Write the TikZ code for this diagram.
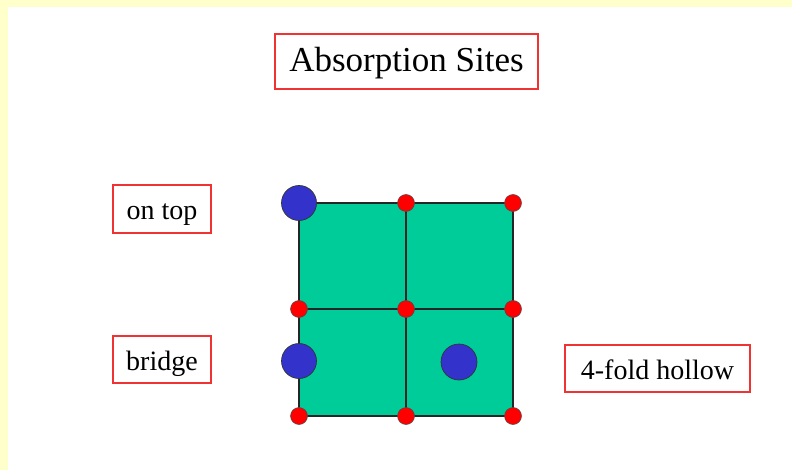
\documentclass[tikz,border=0pt]{standalone}
\usepackage{fontspec}
\setmainfont{Liberation Serif}
\definecolor{pagebg}{RGB}{255,255,204}
\definecolor{surface}{RGB}{0,204,153}
\definecolor{adatom}{RGB}{51,51,204}
\definecolor{latom}{RGB}{255,0,0}
\definecolor{boxline}{RGB}{240,50,50}
\tikzset{
  labelbox/.style={draw=boxline, line width=1.4pt, fill=white, inner sep=0pt,
    font=\fontsize{28}{32}\selectfont, text=black,
    text height=25pt, text depth=4pt},
  titlebox/.style={labelbox, font=\fontsize{35}{40}\selectfont,
    text height=27pt, text depth=6pt},
  lattice/.style={circle, fill=latom, draw=black!70, line width=0.5pt,
    minimum size=17pt, inner sep=0pt},
  adsorbate/.style={circle, fill=adatom, draw=black!80, line width=0.7pt,
    minimum size=35pt, inner sep=0pt},
  gridline/.style={draw=black!85, line width=1.3pt}
}
\begin{document}
\begin{tikzpicture}[x=1pt, y=-1pt]
  % page: pale yellow frame with white slide area
  \fill[pagebg] (0,0) rectangle (792,470);
  \fill[white] (8,7) rectangle (792,470);
  \useasboundingbox (0,0) rectangle (792,470);

  % surface lattice corners
  \coordinate (c00) at (299,203);
  \coordinate (c10) at (406,203);
  \coordinate (c20) at (513,203);
  \coordinate (c01) at (299,309);
  \coordinate (c11) at (406,309);
  \coordinate (c21) at (513,309);
  \coordinate (c02) at (299,416);
  \coordinate (c12) at (406,416);
  \coordinate (c22) at (513,416);

  % substrate surface
  \fill[surface] (c00) rectangle (c22);
  \draw[gridline] (c00) rectangle (c22);
  \draw[gridline] (c10) -- (c12);
  \draw[gridline] (c01) -- (c21);

  % substrate atoms
  \node[lattice] (a10) at (c10) {};
  \node[lattice] (a20) at (c20) {};
  \node[lattice] (a01) at (c01) {};
  \node[lattice] (a11) at (c11) {};
  \node[lattice] (a21) at (c21) {};
  \node[lattice] (a02) at (c02) {};
  \node[lattice] (a12) at (c12) {};
  \node[lattice] (a22) at (c22) {};

  % adsorbed atoms
  \node[adsorbate] (ontop) at (c00) {};
  \node[adsorbate] (bridgesite) at (299,361) {};
  \node[adsorbate, minimum size=36pt] (hollow) at (459,362) {};

  % labels
  \node[titlebox, minimum width=263pt, minimum height=55pt] (title) at (406.5,61.5) {Absorption Sites};
  \node[labelbox, minimum width=98pt, minimum height=48pt] (lontop) at (162,209) {on top};
  \node[labelbox, minimum width=98pt, minimum height=47pt] (lbridge) at (162,359.5) {bridge};
  \node[labelbox, minimum width=185pt, minimum height=47pt] (lhollow) at (657.5,368.5) {4-fold hollow};
\end{tikzpicture}
\end{document}
